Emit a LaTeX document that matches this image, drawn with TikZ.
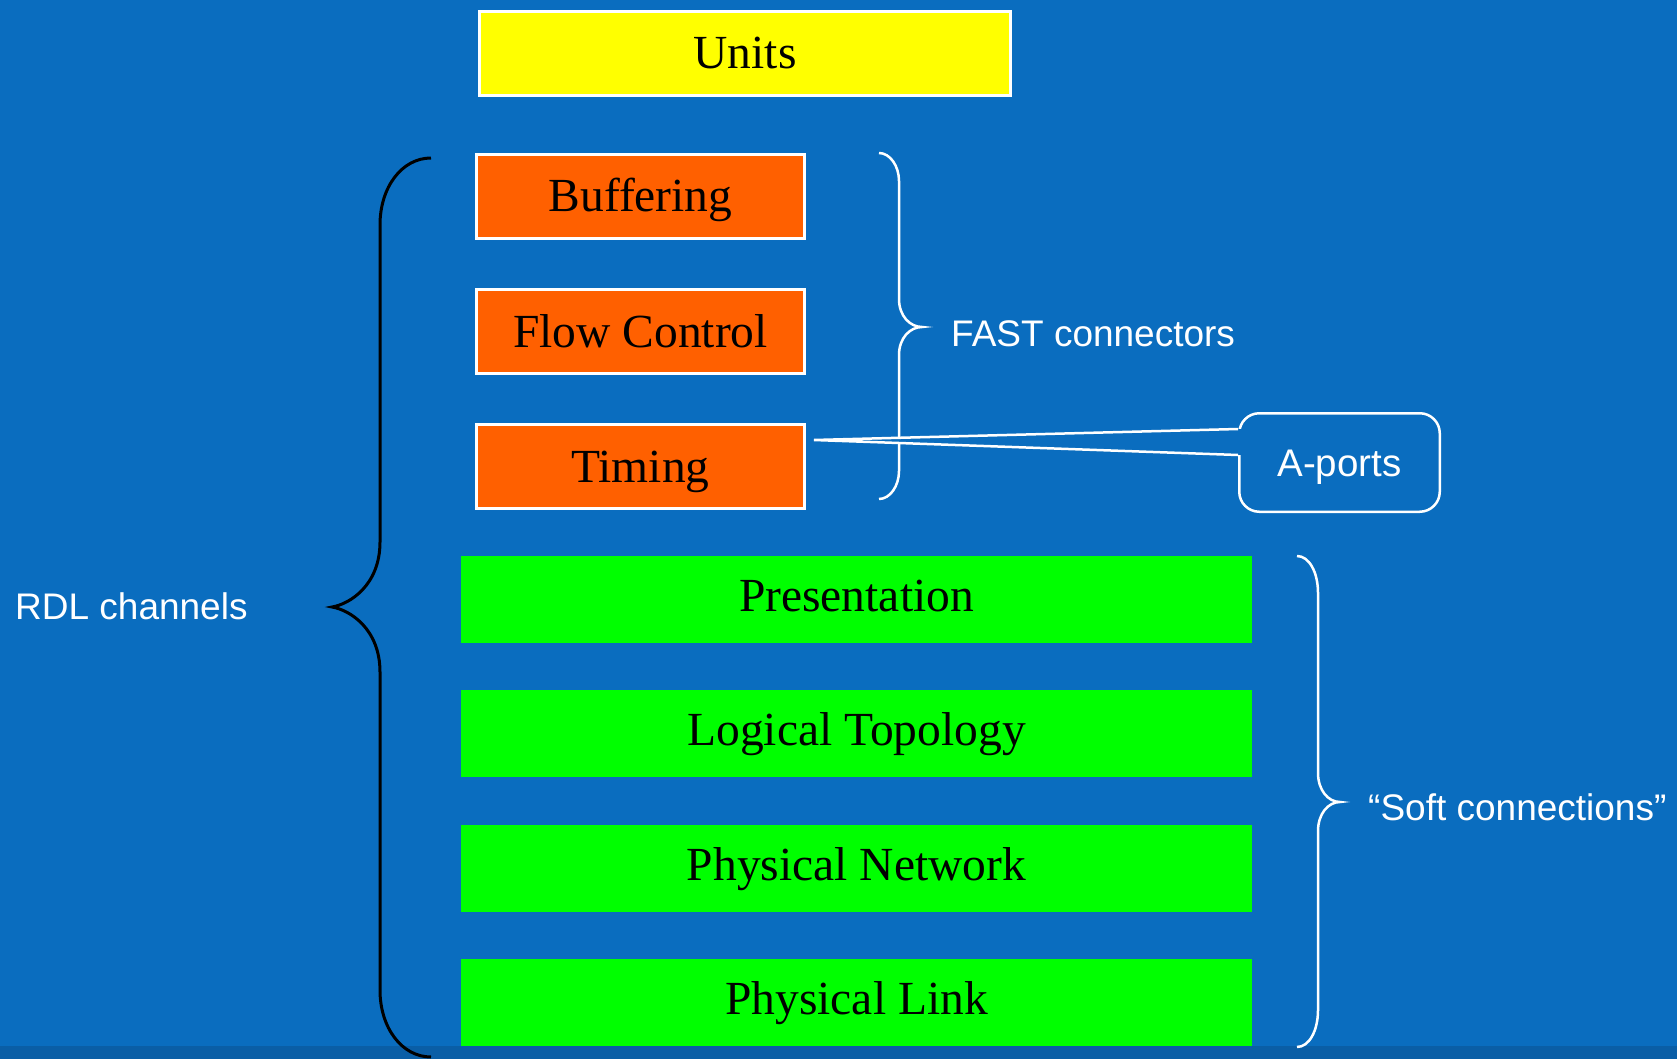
\documentclass[tikz,border=0pt]{standalone}
\usepackage{fontspec}
\setmainfont{Liberation Serif}
\setsansfont{Liberation Sans}
\usetikzlibrary{positioning}
\definecolor{slideblue}{HTML}{0A6DBF}
\definecolor{bandblue}{HTML}{0A5EA6}
\definecolor{unitfill}{HTML}{FFFF00}
\definecolor{fastfill}{HTML}{FF6000}
\definecolor{softfill}{HTML}{00FF00}

\begin{document}
\begin{tikzpicture}[
  x=1pt, y=-1pt,
  node distance=48pt,
  layer/.style={rectangle, inner sep=0pt, text height=31pt, text depth=0pt,
                font=\fontsize{47.5}{56}\selectfont, text=black},
  unitbox/.style={layer, draw=white, line width=3pt, fill=unitfill,
                  minimum width=531pt, minimum height=84pt},
  fastbox/.style={layer, draw=white, line width=3pt, fill=fastfill,
                  minimum width=328pt, minimum height=84pt},
  softbox/.style={layer, text depth=7pt, fill=softfill,
                  minimum width=791pt, minimum height=87pt},
  note/.style={font=\sffamily\fontsize{37}{44}\selectfont, text=white,
               inner sep=0pt, anchor=base west},
  callbox/.style={rectangle, draw=white, line width=2.5pt, rounded corners=20pt,
                  fill=slideblue, minimum width=200.5pt, minimum height=98.5pt,
                  inner sep=0pt, text height=27.5pt, text depth=0pt,
                  font=\sffamily\fontsize{38.5}{46}\selectfont, text=white},
  brace/.style={line width=2.5pt, draw=white},
  darkbrace/.style={line width=3pt, draw=black},
]
\useasboundingbox (0,0) rectangle (1677,1059);
\fill[slideblue] (0,0) rectangle (1677,1059);
\fill[bandblue] (0,1046) rectangle (1677,1059);

\node[unitbox] (units) at (745,53.5) {Units};
\node[fastbox] (buffering) at (640.5,196.5) {Buffering};
\node[fastbox, below=of buffering] (flow)   {Flow Control};
\node[fastbox, below=of flow]      (timing) {Timing};
\node[softbox] (present) at (856.5,599.5) {Presentation};
\node[softbox, below=47pt of present]  (topology) {Logical Topology};
\node[softbox, below=47pt of topology] (network)  {Physical Network};
\node[softbox, below=47pt of network]  (link)     {Physical Link};

% braces
\draw[darkbrace] (431,158) .. controls (402,158) and (380,187) .. (380,225)
  -- (380,542) .. controls (380,585) and (350,604) .. (332,607)
  .. controls (350,610) and (380,629) .. (380,672)
  -- (380,990) .. controls (380,1028) and (402,1057) .. (431,1057);
\draw[brace] (879,153) .. controls (890,153) and (899,166) .. (899,181)
  -- (899,299) .. controls (899,316) and (910,327) .. (922,327)
  .. controls (910,327) and (899,338) .. (899,355)
  -- (899,471) .. controls (899,486) and (890,499) .. (879,499);
\draw[brace] (1297,556) .. controls (1309,556) and (1318,572) .. (1318,593)
  -- (1318,773) .. controls (1318,790) and (1328,802) .. (1340,802)
  .. controls (1328,802) and (1318,814) .. (1318,831)
  -- (1318,1010) .. controls (1318,1031) and (1309,1047) .. (1297,1047);

\node[note] (rdl)  at (15,619)   {RDL channels};
\node[note] (fast) at (951,346)  {FAST connectors};
\node[note] (soft) at (1368,820) {“Soft connections”};

\node[callbox] (aports) at (1339.5,462.5) {A-ports};
\coordinate (tip) at (814,440);
\fill[slideblue] (tip) -- ([xshift=4pt,yshift=33.5pt]aports.west)
  -- ([xshift=4pt,yshift=7.5pt]aports.west) -- cycle;
\draw[brace] ([yshift=33.5pt]aports.west) -- (tip) -- ([yshift=7.5pt]aports.west);
\end{tikzpicture}
\end{document}
